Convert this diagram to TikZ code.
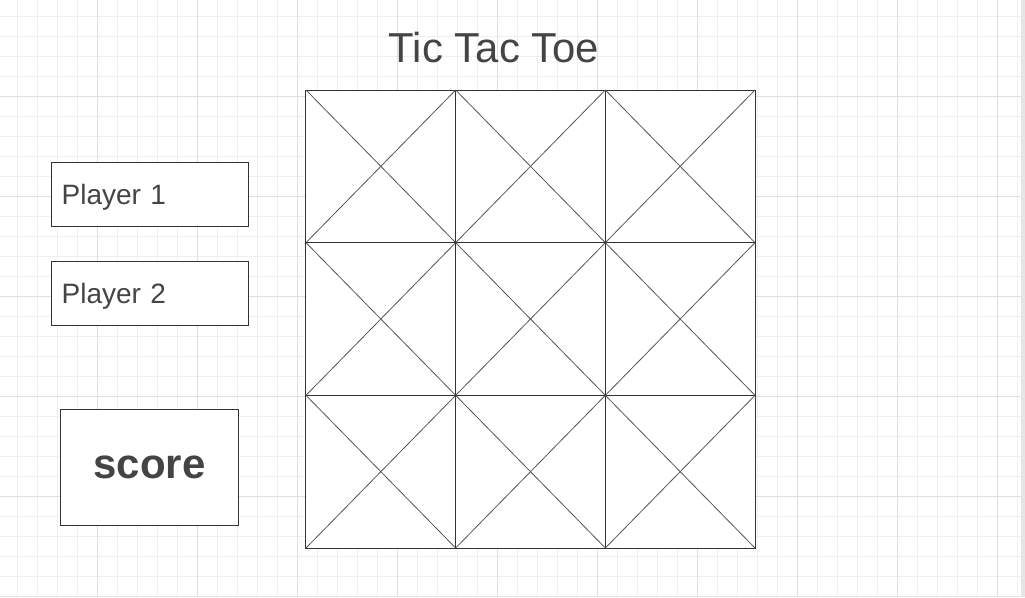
\documentclass[tikz,border=0pt]{standalone}
\usepackage{fontspec}
\setmainfont{Liberation Sans}
\usetikzlibrary{positioning}
\definecolor{ttline}{HTML}{333333}
\definecolor{tttext}{HTML}{444444}
\definecolor{ttdiag}{HTML}{555555}
\definecolor{ttminor}{HTML}{EFEFEF}
\definecolor{ttmajor}{HTML}{E0E0E0}
\definecolor{ttedge}{HTML}{E6E6E6}

\begin{document}
\begin{tikzpicture}[
  x=0.75pt,y=-0.75pt,
  player/.style={draw=ttline,line width=0.75pt,fill=white,inner sep=8pt,minimum height=48pt,text width=131.75pt,text depth=0pt,align=left,text=tttext,font=\fontsize{21}{24}\selectfont},
  scorebox/.style={draw=ttline,line width=0.75pt,fill=white,minimum width=133pt,minimum height=87pt,text=tttext,font=\fontsize{31.5}{36}\selectfont\bfseries},
  cell/.style={draw=ttline,line width=0.75pt,fill=white,inner sep=0pt,outer sep=0pt,minimum width=112.25pt,minimum height=114.5pt},
  diag/.style={draw=ttdiag,line width=0.6pt}]
\useasboundingbox (0,0) rectangle (1025,597);
% paper and grid
\fill[white] (0,0) rectangle (1025,597);
\foreach \x in {17,37,...,1017} \draw[ttminor,line width=0.75pt] (\x,0) -- (\x,597);
\foreach \y in {16,36,...,596} \draw[ttminor,line width=0.75pt] (0,\y) -- (1021,\y);
\foreach \x in {97,197,...,997} \draw[ttmajor,line width=0.75pt] (\x,0) -- (\x,597);
\foreach \y in {96,196,...,596} \draw[ttmajor,line width=0.75pt] (0,\y) -- (1021,\y);
\fill[ttedge] (1021,0) rectangle (1025,597);
% title
\node[text=tttext,font=\fontsize{31.4}{36}\selectfont] (title) at (494,48) {Tic Tac Toe};
% players and score
\node[player] (p1) at (149.5,194) {Player 1};
\node[player,below=26pt of p1] (p2) {Player 2};
\node[scorebox,below=62.25pt of p2] (score) {\raisebox{-1.5pt}{score}};
% board
\foreach \r in {0,1,2}{
  \foreach \c in {0,1,2}{
    \node[cell] (c\r\c) at ({306+149.67*\c+74.83},{90+152.67*\r+76.33}) {};
    \draw[diag] (c\r\c.north west) -- (c\r\c.south east);
    \draw[diag] (c\r\c.south west) -- (c\r\c.north east);
  }
}
\end{tikzpicture}
\end{document}
